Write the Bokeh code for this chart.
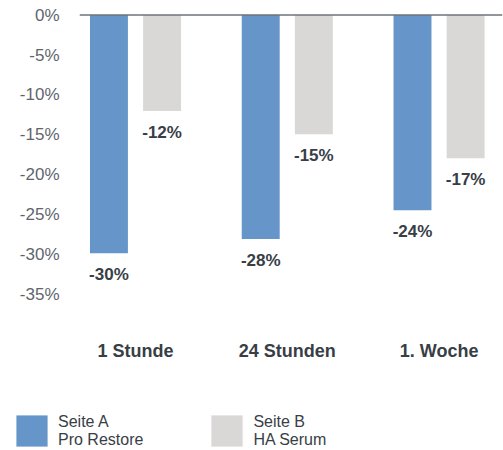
from bokeh.plotting import figure
from bokeh.layouts import column
from bokeh.models import Range1d, FixedTicker, ColumnDataSource, Legend, LegendItem, Span
from bokeh.embed import file_html
from bokeh.resources import INLINE
from bokeh.core.properties import value

categories = ["1 Stunde", "24 Stunden", "1. Woche"]
series_names = ["Seite A\nPro Restore", "Seite B\nHA Serum"]
seite_a = [-29.8, -28.0, -24.4]
seite_b = [-12.0, -14.9, -17.9]
labels_a = ["-30%", "-28%", "-24%"]
labels_b = ["-12%", "-15%", "-17%"]
y_ticks = [0, -5, -10, -15, -20, -25, -30, -35]
y_tick_labels = ["0%", "-5%", "-10%", "-15%", "-20%", "-25%", "-30%", "-35%"]

BLUE = "#6696c9"
GRAY = "#d9d8d6"
FONT = "Liberation Sans"
DARK = "#383e46"
TICK = "#5f656c"

DODGE = 0.175
BAR_W = 0.25

idx = list(range(len(categories)))
src_a = ColumnDataSource(dict(x=[i - DODGE for i in idx], v=seite_a, t=labels_a))
src_b = ColumnDataSource(dict(x=[i + DODGE for i in idx], v=seite_b, t=labels_b))

p = figure(width=503, height=370,
           x_range=Range1d(-0.369, 2.418), y_range=Range1d(-38.2, 1.44),
           output_backend="svg", toolbar_location=None,
           min_border_left=79, min_border_right=1, min_border_top=3,
           min_border_bottom=50)
p.frame_align = False
p.outline_line_color = None
p.xgrid.visible = False
p.ygrid.visible = False

ra = p.vbar(x="x", width=BAR_W, top=0, bottom="v", source=src_a,
            fill_color=BLUE, line_color=None)
rb = p.vbar(x="x", width=BAR_W, top=0, bottom="v", source=src_b,
            fill_color=GRAY, line_color=None)

p.add_layout(Span(location=0, dimension="width", line_color="#6e7378", line_width=1.5))

for src in (src_a, src_b):
    p.text(x="x", y="v", text="t", source=src, text_align="center",
           text_baseline="top", y_offset=12,
           text_font=value(FONT), text_font_size="17px",
           text_font_style="bold", text_color=DARK)

# y axis
yax = p.yaxis[0]
yax.ticker = FixedTicker(ticks=y_ticks)
yax.major_label_overrides = {t: l for t, l in zip(y_ticks, y_tick_labels)}
yax.axis_line_color = None
yax.major_tick_line_color = None
yax.minor_tick_line_color = None
yax.major_label_standoff = 14
yax.major_label_text_font = FONT
yax.major_label_text_font_size = "17px"
yax.major_label_text_color = TICK

# x axis
xax = p.xaxis[0]
xax.ticker = FixedTicker(ticks=idx)
xax.major_label_overrides = {i: c for i, c in zip(idx, categories)}
xax.axis_line_color = None
xax.major_tick_line_color = None
xax.minor_tick_line_color = None
xax.major_label_standoff = 14
xax.major_label_text_font = FONT
xax.major_label_text_font_size = "18px"
xax.major_label_text_font_style = "bold"
xax.major_label_text_color = DARK

# legend panel (same series; its view shows no bars, only the legend)
lg = figure(width=503, height=80, x_range=Range1d(-0.369, 2.418), y_range=Range1d(1, 2),
            output_backend="svg", toolbar_location=None,
            x_axis_location=None, y_axis_location=None,
            min_border=0)
lg.frame_align = False
lg.outline_line_color = None
lg.xgrid.visible = False
lg.ygrid.visible = False
la = lg.vbar(x="x", width=BAR_W, top=0, bottom="v", source=src_a,
             fill_color=BLUE, line_color=None)
lb = lg.vbar(x="x", width=BAR_W, top=0, bottom="v", source=src_b,
             fill_color=GRAY, line_color=None)

legend = Legend(items=[LegendItem(label=series_names[0], renderers=[la]),
                       LegendItem(label=series_names[1], renderers=[lb])],
                location=(12, 0), orientation="horizontal",
                glyph_width=39, glyph_height=39, label_standoff=7,
                spacing=64, padding=0, margin=0,
                border_line_color=None, background_fill_alpha=0,
                label_text_font=FONT, label_text_font_size="16px",
                label_text_color=DARK, label_text_line_height=1.15)
lg.add_layout(legend, "center")

layout = column(p, lg, spacing=0)
open("out.html", "w").write(file_html(layout, INLINE))
